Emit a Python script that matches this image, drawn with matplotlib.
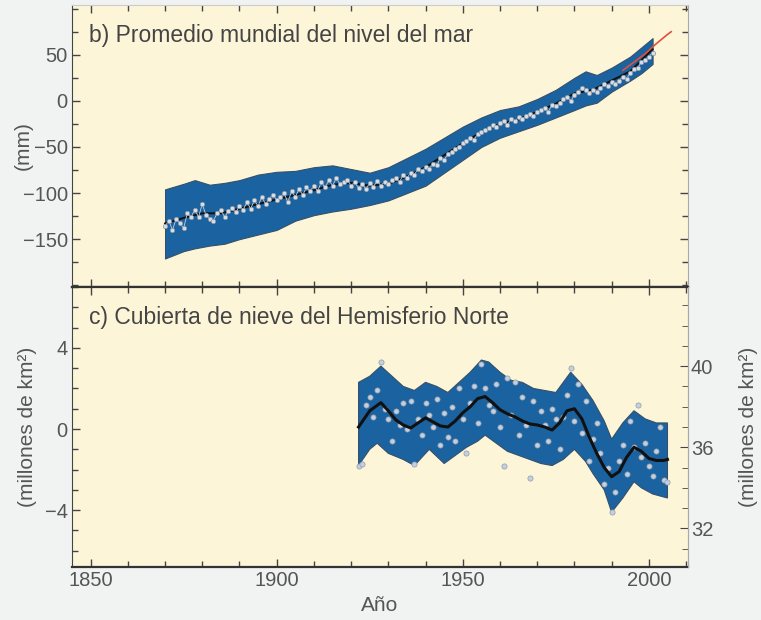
import matplotlib
matplotlib.use("Agg")  # no display
import matplotlib.pyplot as plt
from matplotlib.ticker import MultipleLocator, FixedLocator, NullFormatter

plt.rcParams["font.family"] = ["Liberation Sans", "DejaVu Sans"]

# --- b) sea level (mm) ---
sl_band_years = [1870, 1875, 1878, 1882, 1886, 1890, 1895, 1900, 1905, 1910,
                 1915, 1920, 1925, 1930, 1935, 1940, 1945, 1950, 1955, 1960,
                 1965, 1970, 1975, 1980, 1983, 1986, 1990, 1995, 1998, 2001]
sl_band_upper = [-96, -90, -86, -91, -89, -86, -80, -77, -76, -72,
                 -70, -74, -78, -72, -62, -52, -40, -28, -18, -10,
                 -6, 2, 12, 25, 32, 28, 36, 48, 58, 68]
sl_band_lower = [-171, -163, -160, -157, -155, -150, -145, -140, -130, -124,
                 -120, -117, -113, -108, -100, -92, -78, -64, -50, -40,
                 -33, -26, -18, -10, -5, -2, 10, 22, 30, 40]

sl_smooth_years = [1870, 1875, 1880, 1885, 1890, 1895, 1900, 1905, 1910, 1915,
                   1920, 1925, 1930, 1935, 1940, 1945, 1950, 1955, 1960, 1965,
                   1970, 1975, 1980, 1985, 1990, 1995, 2000, 2001]
sl_smooth = [-133, -127, -122, -122, -117, -112, -107, -102, -97, -91,
             -89, -92, -90, -82, -72, -59, -46, -34, -25, -20,
             -12, -3, 8, 12, 22, 32, 52, 56]

sl_years = list(range(1870, 2002))
sl_points = [
    -136, -130, -140, -128, -133, -138, -122, -126, -118, -126,  # 1870s
    -112, -124, -128, -130, -122, -118, -126, -120, -116, -121,  # 1880s
    -114, -118, -110, -117, -108, -114, -104, -112, -106, -102,  # 1890s
    -108, -104, -100, -110, -98, -104, -96, -102, -94, -98,      # 1900s
    -92, -98, -88, -94, -86, -92, -84, -90, -88, -86,            # 1910s
    -92, -88, -95, -90, -96, -89, -93, -87, -92, -88,            # 1920s
    -90, -86, -84, -88, -80, -84, -78, -80, -74, -76,            # 1930s
    -72, -74, -68, -70, -62, -64, -58, -56, -52, -50,            # 1940s
    -46, -44, -40, -42, -36, -34, -32, -30, -26, -28,            # 1950s
    -24, -22, -26, -20, -22, -18, -20, -16, -14, -16,            # 1960s
    -12, -10, -8, -12, -4, -6, -2, 2, 4, 0,                      # 1970s
    6, 10, 14, 12, 8, 12, 10, 14, 18, 16,                        # 1980s
    20, 18, 22, 26, 24, 30, 34, 36, 42, 44,                      # 1990s
    48, 52,                                                      # 2000s
]
sl_ticks = [-150, -100, -50, 0, 50]

# satellite altimetry (red)
sat_years = [1993, 1996, 1999, 2002, 2005, 2006]
sat_values = [33, 42, 51, 62, 72, 75]

# --- c) NH snow cover (million km2, anomaly) ---
sn_band_years_up = [1922, 1925, 1928, 1931, 1934, 1937, 1940, 1943, 1946, 1949,
                    1952, 1955, 1957, 1960, 1963, 1966, 1969, 1972, 1975, 1979,
                    1982, 1985, 1988, 1990, 1993, 1996, 1999, 2002, 2005]
sn_band_upper = [2.3, 2.6, 3.1, 2.6, 2.1, 1.9, 2.3, 2.1, 1.8, 2.3,
                 2.8, 3.4, 3.3, 2.8, 2.4, 2.3, 2.0, 1.9, 1.8, 2.8,
                 2.2, 1.4, 0.4, -0.5, 0.3, 0.9, 0.5, 0.3, 0.3]
sn_band_years_lo = [1922, 1925, 1927, 1930, 1934, 1937, 1941, 1945, 1948, 1951,
                    1954, 1956, 1959, 1962, 1965, 1968, 1971, 1974, 1977, 1980,
                    1983, 1985, 1988, 1990, 1993, 1996, 1998, 2001, 2005]
sn_band_lower = [-1.8, -1.0, -0.7, -1.2, -1.5, -1.8, -1.0, -1.7, -1.3, -0.9,
                 -0.6, -0.3, -0.7, -1.1, -1.3, -1.5, -1.7, -1.8, -1.5, -1.0,
                 -1.6, -2.2, -3.0, -4.1, -3.4, -2.6, -2.9, -3.2, -3.4]

sn_smooth_years = [1922, 1925, 1928, 1930, 1932, 1934, 1936, 1938, 1940, 1942,
                   1944, 1946, 1948, 1950, 1952, 1954, 1956, 1958, 1960, 1962,
                   1964, 1966, 1968, 1970, 1972, 1974, 1976, 1978, 1980, 1982,
                   1984, 1986, 1988, 1990, 1992, 1994, 1996, 1998, 2000, 2002,
                   2004, 2005]
sn_smooth = [0.1, 0.9, 1.3, 0.9, 0.45, 0.2, 0.05, 0.3, 0.55, 0.35,
             0.15, 0.1, 0.4, 0.8, 1.1, 1.5, 1.6, 1.3, 0.95, 0.75,
             0.6, 0.4, 0.25, 0.2, 0.1, -0.05, 0.3, 0.9, 1.0, 0.5,
             -0.4, -1.2, -1.9, -2.35, -2.1, -1.4, -0.9, -1.1, -1.45, -1.55,
             -1.55, -1.5]

sn_years = list(range(1922, 2006))
sn_points = [
    -1.8, -1.7, 1.2, 1.6, 0.6, 1.9, 3.3, 1.0,                    # 1922-29
    0.5, -0.6, 0.9, 0.2, 1.3, 0.0, 1.4, -1.7, 0.5, -0.3,         # 1930s
    1.3, 0.7, 0.1, 1.5, -0.8, 0.8, -0.4, 1.1, -0.6, 2.0,         # 1940s
    0.5, -1.2, 1.3, 2.1, 0.3, 3.2, 2.0, 1.2, 0.9, 2.2,           # 1950s
    0.1, -1.8, 2.5, 0.7, 2.3, -0.3, 1.6, 0.2, -2.4, 1.4,         # 1960s
    -0.8, 0.9, 0.2, -0.6, 1.0, 0.5, -1.0, 0.6, 1.7, 3.0,         # 1970s
    0.4, 2.2, -0.2, 1.4, -1.6, -0.5, 0.3, -1.2, -2.7, -1.9,      # 1980s
    -4.1, -3.1, -1.6, -0.8, -2.2, 0.4, -0.9, 1.2, -1.4, -0.7,    # 1990s
    -1.8, -2.3, -1.1, 0.1, -2.5, -2.6,                           # 2000s
]
SNOW_MEAN = 36.9  # right axis offset (absolute cover)

BG = "#f1f2f2"
PANEL = "#fdf5d8"
BAND = "#1b62a0"
TXT = "#555555"
TICK_FS = 14.5
LABEL_FS = 15
TITLE_FS = 16.5


def _style_axis(ax):
    ax.set_facecolor(PANEL)
    ax.set_xlim(1845, 2010.5)
    ax.xaxis.set_major_locator(MultipleLocator(50))
    ax.xaxis.set_minor_locator(MultipleLocator(10))
    ax.tick_params(which="both", direction="in", colors="#444444",
                   labelcolor=TXT, labelsize=TICK_FS, top=True, pad=3)
    ax.tick_params(which="major", length=6, width=1)
    ax.tick_params(which="minor", length=4, width=1)
    ax.spines["left"].set_color("#444444")
    ax.spines["bottom"].set_color("#333333")
    ax.spines["bottom"].set_linewidth(1.6)
    ax.spines["right"].set_color("#aaaaaa")
    ax.spines["top"].set_color("#cccccc")


fig = plt.figure(figsize=(7.61, 6.2), dpi=100, facecolor=BG)
ax_top = fig.add_axes([0.0946, 0.537, 0.8094, 0.455])
ax_bot = fig.add_axes([0.0946, 0.0855, 0.8094, 0.4516])

# Top panel: sea level
_style_axis(ax_top)
ax_top.fill_between(sl_band_years, sl_band_lower, sl_band_upper,
                    color=BAND, edgecolor="#35506a", linewidth=0.8, zorder=2)
ax_top.plot(sl_smooth_years, sl_smooth, color="#111111", lw=1.4, zorder=3)
ax_top.plot(sl_years, sl_points, color="#c8d0d8", lw=0.6, zorder=3)
ax_top.scatter(sl_years, sl_points, s=10, facecolor="#d8dee6",
               edgecolor="#8a96a4", linewidth=0.5, zorder=4)
ax_top.plot(sat_years, sat_values, color="#e0503a", lw=1.2, zorder=5)
ax_top.set_ylim(-202, 104)
ax_top.yaxis.set_major_locator(FixedLocator(sl_ticks))
ax_top.yaxis.set_minor_locator(MultipleLocator(25))
ax_top.tick_params(right=True, which="both")
ax_top.xaxis.set_major_formatter(NullFormatter())
ax_top.set_ylabel("(mm)", fontsize=LABEL_FS, color=TXT)
ax_top.yaxis.set_label_coords(-0.063, 0.5)
ax_top.text(0.028, 0.89, "b) Promedio mundial del nivel del mar",
            transform=ax_top.transAxes, fontsize=TITLE_FS, color="#444444",
            va="center", ha="left")

# Bottom panel: snow cover
_style_axis(ax_bot)
ax_bot.fill(sn_band_years_up + sn_band_years_lo[::-1],
            sn_band_upper + sn_band_lower[::-1],
            color=BAND, edgecolor="#35506a", linewidth=0.8, zorder=2)
ax_bot.scatter(sn_years, sn_points, s=14, facecolor="#c4d0e0",
               edgecolor="#909cac", linewidth=0.5, zorder=3)
ax_bot.plot(sn_smooth_years, sn_smooth, color="#111111", lw=2.2, zorder=4)
ax_bot.set_ylim(-6.8, 7.0)
ax_bot.yaxis.set_major_locator(MultipleLocator(4))
ax_bot.yaxis.set_minor_locator(MultipleLocator(1))
ax_bot.spines["top"].set_color("#333333")
ax_bot.spines["top"].set_linewidth(1.6)
ax_bot.set_ylabel("(millones de km²)", fontsize=LABEL_FS, color=TXT)
ax_bot.yaxis.set_label_coords(-0.057, 0.5)
ax_bot.set_xlabel("Año", fontsize=LABEL_FS, color=TXT, labelpad=4)
ax_bot.text(0.028, 0.89, "c) Cubierta de nieve del Hemisferio Norte",
            transform=ax_bot.transAxes, fontsize=TITLE_FS, color="#444444",
            va="center", ha="left")

ax_right = ax_bot.twinx()
lo, hi = ax_bot.get_ylim()
ax_right.set_ylim(lo + SNOW_MEAN, hi + SNOW_MEAN)
ax_right.yaxis.set_major_locator(MultipleLocator(4))
ax_right.yaxis.set_minor_locator(MultipleLocator(1))
ax_right.tick_params(which="both", direction="in", colors="#444444",
                     labelcolor=TXT, labelsize=TICK_FS, pad=2)
ax_right.tick_params(which="major", length=6)
ax_right.tick_params(which="minor", length=4)
for side in ("left", "top", "bottom"):
    ax_right.spines[side].set_visible(False)
ax_right.spines["right"].set_color("#aaaaaa")
ax_right.set_ylabel("(millones de km²)", fontsize=LABEL_FS, color=TXT)
ax_right.yaxis.set_label_coords(1.083, 0.5)

fig.savefig("out.png", dpi=100, facecolor=BG)
